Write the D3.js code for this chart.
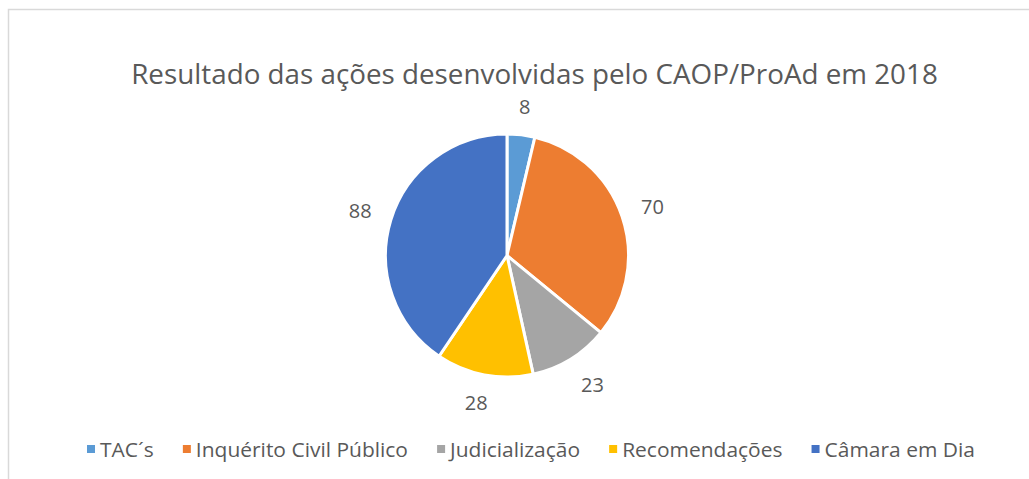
<!DOCTYPE html>
<html>
<head>
<meta charset="utf-8">
<script src="https://cdn.jsdelivr.net/npm/d3@7"></script>
<style>
  html, body { margin: 0; padding: 0; background: #fff; }
  svg { display: block; }
</style>
</head>
<body>
<svg id="chart" width="1029" height="479"></svg>
<script>
const title = "Resultado das ações desenvolvidas pelo CAOP/ProAd em 2018";
const categories = ["TAC´s", "Inquérito Civil Público", "Judicialização", "Recomendações", "Câmara em Dia"];
const values = [8, 70, 23, 28, 88];
const colors = ["#5B9BD5", "#ED7D31", "#A5A5A5", "#FFC000", "#4472C4"];

const W = 1029, H = 479;
const FONT = "'Open Sans', 'Noto Sans', sans-serif";
const TEXT = "#595959";
const svg = d3.select("#chart");

// chart border (right/bottom edges fall outside the frame)
svg.append("path")
  .attr("d", `M8.5,${H + 2} V9.5 H${W + 2}`)
  .attr("fill", "none")
  .attr("stroke", "#D9D9D9")
  .attr("stroke-width", 1.5);

// title: Calibri-like narrow rendering (horizontal compression to the reference width)
const titleG = svg.append("g");
const titleEl = titleG.append("text")
  .attr("x", 0).attr("y", 0)
  .attr("text-anchor", "middle")
  .attr("font-family", FONT)
  .attr("fill", TEXT)
  .attr("font-size", 27)
  .text(title);
const tw = titleEl.node().getComputedTextLength();
titleG.attr("transform", `translate(534.5,84) scale(${807 / tw},1)`);

// pie
const cx = 507, cy = 255.5, r = 121.5;
const pie = d3.pie().sort(null).value(d => d)(values);
const arc = d3.arc().innerRadius(0).outerRadius(r);
const g = svg.append("g").attr("transform", `translate(${cx},${cy})`);
g.selectAll("path.slice")
  .data(pie)
  .join("path")
  .attr("class", "slice")
  .attr("d", arc)
  .attr("fill", (d, i) => colors[i])
  .attr("stroke", "#fff")
  .attr("stroke-width", 3)
  .attr("stroke-linejoin", "round");

// outside-end data labels
const labelFont = 20;
const clamp = v => Math.max(-1, Math.min(1, v));
g.selectAll("text.lbl")
  .data(pie)
  .join("text")
  .attr("class", "lbl")
  .attr("font-family", FONT)
  .attr("font-size", labelFont)
  .attr("fill", TEXT)
  .attr("text-anchor", "middle")
  .attr("dominant-baseline", "central")
  .text(d => d.data)
  .each(function(d) {
    const a = (d.startAngle + d.endAngle) / 2;
    const s = Math.sin(a), c = -Math.cos(a);
    const bw = this.getComputedTextLength() / 2;
    const bh = 8;
    const R = r + 20;
    const x = R * s + bw * clamp(s * 2);
    const y = R * c + bh * clamp(c * 1.6);
    d3.select(this).attr("x", x).attr("y", y);
  });

// legend
const legFont = 20;
const swatch = 8, swGap = 5, itemGap = 29;
const legLeft = 87, legRight = 975;
const legend = svg.append("g");
const items = legend.selectAll("g.item")
  .data(categories)
  .join("g")
  .attr("class", "item");
items.append("rect")
  .attr("width", swatch).attr("height", swatch)
  .attr("y", -swatch / 2)
  .attr("fill", (d, i) => colors[i]);
const labels = items.append("g").attr("class", "lt");
labels.append("text")
  .attr("dominant-baseline", "central")
  .attr("font-family", FONT)
  .attr("font-size", legFont)
  .attr("fill", TEXT)
  .text(d => d);
const tws = [];
labels.each(function() { tws.push(d3.select(this).select("text").node().getComputedTextLength()); });
const fixed = categories.length * (swatch + swGap) + (categories.length - 1) * itemGap;
const k = (legRight - legLeft - fixed) / d3.sum(tws);
let xpos = legLeft;
items.each(function(d, i) {
  const it = d3.select(this);
  it.attr("transform", `translate(${xpos},449)`);
  it.select("g.lt").attr("transform", `translate(${swatch + swGap},0) scale(${k},1)`);
  xpos += swatch + swGap + tws[i] * k + itemGap;
});
</script>
</body>
</html>
